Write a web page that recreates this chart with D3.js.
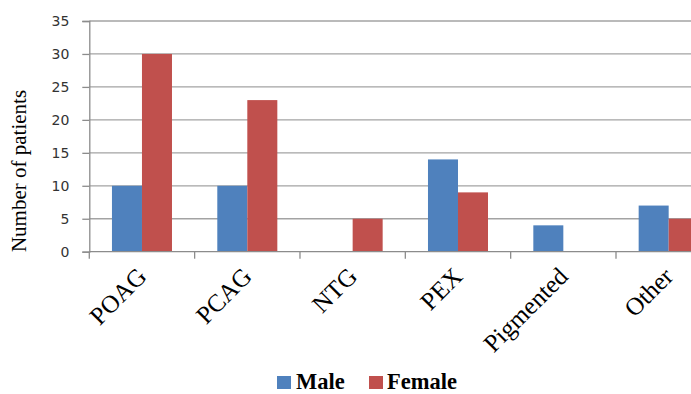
<!DOCTYPE html>
<html>
<head>
<meta charset="utf-8">
<script src="https://cdn.jsdelivr.net/npm/d3@7"></script>
<style>
  html, body { margin: 0; padding: 0; background: #fff; }
  svg { display: block; }
</style>
</head>
<body>
<svg id="chart" width="691" height="394"></svg>
<script>
// Glaucoma type counts by sex
const categories = ["POAG", "PCAG", "NTG", "PEX", "Pigmented", "Other"];
const seriesNames = ["Male", "Female"];
const maleValues = [10, 10, 0, 14, 4, 7];
const femaleValues = [30, 23, 5, 9, 0, 5];
const yTicks = [0, 5, 10, 15, 20, 25, 30, 35];
const colors = { Male: "#4F81BD", Female: "#C0504D" };

const rows = categories.map((c, i) => ({ cat: c, Male: maleValues[i], Female: femaleValues[i] }));

const svg = d3.select("#chart");
const plotLeft = 89.3, plotTop = 21, plotBottom = 251.7;
const step = 105.34;

const x = d3.scaleBand().domain(categories).range([plotLeft, plotLeft + step * categories.length]).padding(0);
const xs = d3.scaleBand().domain(seriesNames).range([0, x.bandwidth()]).paddingInner(0).paddingOuter(0.755);
const y = d3.scaleLinear().domain([0, 35]).range([plotBottom, plotTop]);

const serif = "'Liberation Serif', 'Times New Roman', serif";

// horizontal gridlines
svg.append("g").selectAll("line").data(yTicks.filter(t => t > 0)).join("line")
  .attr("x1", plotLeft).attr("x2", 691)
  .attr("y1", d => y(d)).attr("y2", d => y(d))
  .attr("stroke", "#a3a3a3").attr("stroke-width", 1.3);

// bars
const groups = svg.append("g").selectAll("g").data(rows).join("g")
  .attr("transform", d => `translate(${x(d.cat)},0)`);
groups.selectAll("rect").data(d => seriesNames.map(s => ({ s, v: d[s] }))).join("rect")
  .attr("x", d => xs(d.s))
  .attr("width", xs.bandwidth())
  .attr("y", d => y(d.v))
  .attr("height", d => y(0) - y(d.v))
  .attr("fill", d => colors[d.s]);

// y axis
const yAxis = svg.append("g").attr("transform", `translate(${plotLeft},0)`)
  .call(d3.axisLeft(y).tickValues(yTicks).tickSize(7).tickPadding(13));
yAxis.select(".domain").attr("stroke", "#8c8c8c").attr("stroke-width", 1.3);
yAxis.selectAll(".tick line").attr("stroke", "#8c8c8c").attr("stroke-width", 1.3);
yAxis.selectAll(".tick text")
  .attr("font-family", "'DejaVu Sans', Verdana, sans-serif")
  .attr("font-size", 14).attr("fill", "#333");

// x axis line and boundary ticks
svg.append("line").attr("x1", plotLeft).attr("x2", 691).attr("y1", plotBottom).attr("y2", plotBottom)
  .attr("stroke", "#8c8c8c").attr("stroke-width", 1.3);
const bounds = categories.map(c => x(c)).concat([x(categories[categories.length - 1]) + x.bandwidth()]);
svg.append("g").selectAll("line").data(bounds).join("line")
  .attr("x1", d => d).attr("x2", d => d)
  .attr("y1", plotBottom).attr("y2", plotBottom + 7)
  .attr("stroke", "#8c8c8c").attr("stroke-width", 1.3);

// category labels
svg.append("g").selectAll("text").data(categories).join("text")
  .attr("transform", d => `translate(${x(d) + x.bandwidth() / 2 + 6},278) rotate(-45)`)
  .attr("text-anchor", "end")
  .attr("font-family", serif).attr("font-size", 25)
  .attr("fill", "#000")
  .text(d => d);

// y axis title
svg.append("text")
  .attr("transform", "translate(26,171) rotate(-90)")
  .attr("text-anchor", "middle")
  .attr("font-family", serif).attr("font-size", 21)
  .attr("fill", "#000")
  .text("Number of patients");

// legend
const legendItems = [
  { name: "Male", sx: 277, tx: 296 },
  { name: "Female", sx: 369, tx: 387 }
];
const lg = svg.append("g");
lg.selectAll("rect").data(legendItems).join("rect")
  .attr("x", d => d.sx).attr("y", 376).attr("width", 14).attr("height", 13)
  .attr("fill", d => colors[d.name]);
lg.selectAll("text").data(legendItems).join("text")
  .attr("x", d => d.tx).attr("y", 388.5)
  .attr("font-family", serif).attr("font-size", 22.5).attr("font-weight", "bold")
  .attr("fill", "#000")
  .text(d => d.name);
</script>
</body>
</html>
